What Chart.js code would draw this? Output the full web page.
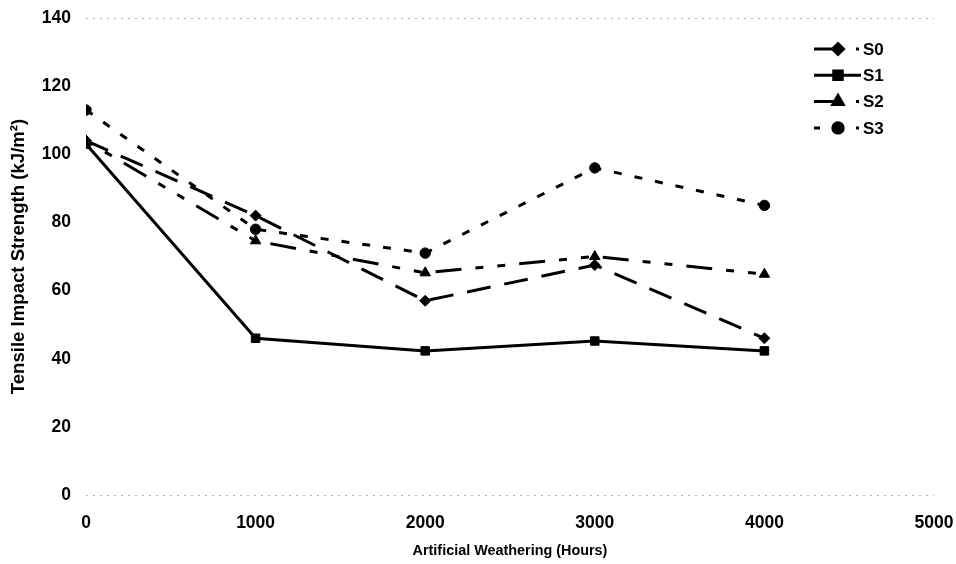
<!DOCTYPE html>
<html><head><meta charset="utf-8">
<script src="https://cdn.jsdelivr.net/npm/chart.js@4"></script>
<style>html,body{margin:0;padding:0;background:#fff}#w{width:956px;height:564px}</style>
</head><body><div id="w"><canvas id="c" width="956" height="564"></canvas></div>
<script>
const hours = [0, 1000, 2000, 3000, 4000];
const s0 = [104, 82, 57, 67.5, 46];
const s1 = [103, 46, 42.3, 45.2, 42.3];
const s2 = [104, 74.6, 65.2, 70, 64.8];
const s3 = [113, 78, 71, 96, 85];
const seriesNames = ['S0', 'S1', 'S2', 'S3'];
const xTitle = 'Artificial Weathering (Hours)';
const yTitle = 'Tensile Impact Strength (kJ/m²)';

const FONT = '"Liberation Sans", Arial, sans-serif';
function pts(v){ return hours.map((h,i)=>({x:h,y:v[i]})); }
const styles = [
  {pointStyle:'rectRot', pointRadius:5.5, borderDash:[24,14]},
  {pointStyle:'rect', pointRadius:6, borderDash:[]},
  {pointStyle:'triangle', pointRadius:6, borderDash:[8,14,8,14,26,14]},
  {pointStyle:'circle', pointRadius:5.2, borderDash:[8,13]}
];
const vals = [s0, s1, s2, s3];
const datasets = vals.map((v,i)=>({
  label: seriesNames[i],
  data: pts(v),
  borderColor:'#000', backgroundColor:'#000',
  pointBackgroundColor:'#000', pointBorderColor:'#000', pointBorderWidth:1,
  borderWidth:3, tension:0,
  pointStyle: styles[i].pointStyle, pointRadius: styles[i].pointRadius,
  borderDash: styles[i].borderDash
}));

const legendDash = [[24,18,3,10],[],[24,18,3,10],[6,36,3,10]];
const legendPlugin = {
  id:'customLegend',
  afterDraw(chart){
    const ctx = chart.ctx;
    const x0 = 814, x1 = 861, y0 = 49, dy = 26.3;
    chart.data.datasets.forEach((ds,i)=>{
      const y = y0 + i*dy;
      ctx.save();
      ctx.strokeStyle = '#000'; ctx.lineWidth = 3;
      ctx.setLineDash(legendDash[i]);
      ctx.beginPath(); ctx.moveTo(x0,y); ctx.lineTo(x1,y); ctx.stroke();
      ctx.setLineDash([]);
      ctx.fillStyle = '#000'; ctx.strokeStyle = '#000';
      Chart.helpers.drawPoint(ctx, {pointStyle:ds.pointStyle, radius:ds.pointRadius, borderWidth:1, rotation:0}, 838, y);
      ctx.fill();
      ctx.font = 'bold 17px ' + FONT;
      ctx.textBaseline = 'middle'; ctx.textAlign='left';
      ctx.fillText(ds.label, x1 + 2, y + 1);
      ctx.restore();
    });
  }
};

new Chart(document.getElementById('c'), {
  type:'line',
  data:{datasets},
  options:{
    responsive:false, animation:false, devicePixelRatio:1,
    layout:{padding:{top:18, right:22, left:0, bottom:0}},
    plugins:{legend:{display:false}, tooltip:{enabled:false}},
    scales:{
      x:{type:'linear', min:0, max:5000,
        ticks:{stepSize:1000, color:'#000', font:{family:FONT, size:17.5, weight:'bold'}, padding:18, maxRotation:0,
          callback:(v)=>String(v)},
        grid:{display:false, drawTicks:false}, border:{display:false},
        title:{display:true, text:xTitle, color:'#000', font:{family:FONT, size:14.4, weight:'bold'}, padding:{top:10}},
        afterFit(s){ s.height = 69; s.paddingLeft = 0; s.paddingRight = 0; s.paddingTop = 0; s.paddingBottom = 0; }
      },
      y:{min:0, max:140,
        ticks:{stepSize:20, color:'#000', font:{family:FONT, size:17.5, weight:'bold'}, padding:15,
          callback:(v)=>String(v)},
        grid:{drawTicks:false, lineWidth:1,
          color:(c)=> (c.tick && (c.tick.value===0 || c.tick.value===140)) ? 'rgba(0,0,0,0.3)' : 'rgba(0,0,0,0)'},
        border:{display:false, dash:[2,5]},
        title:{display:true, text:yTitle, color:'#000', font:{family:FONT, size:18.6, weight:'bold'}, padding:{top:8, bottom:2}},
        afterFit(s){ s.width = 86; s.paddingTop = 0; s.paddingBottom = 0; s.paddingLeft = 0; s.paddingRight = 0; }
      }
    }
  },
  plugins:[legendPlugin]
});
</script></body></html>
